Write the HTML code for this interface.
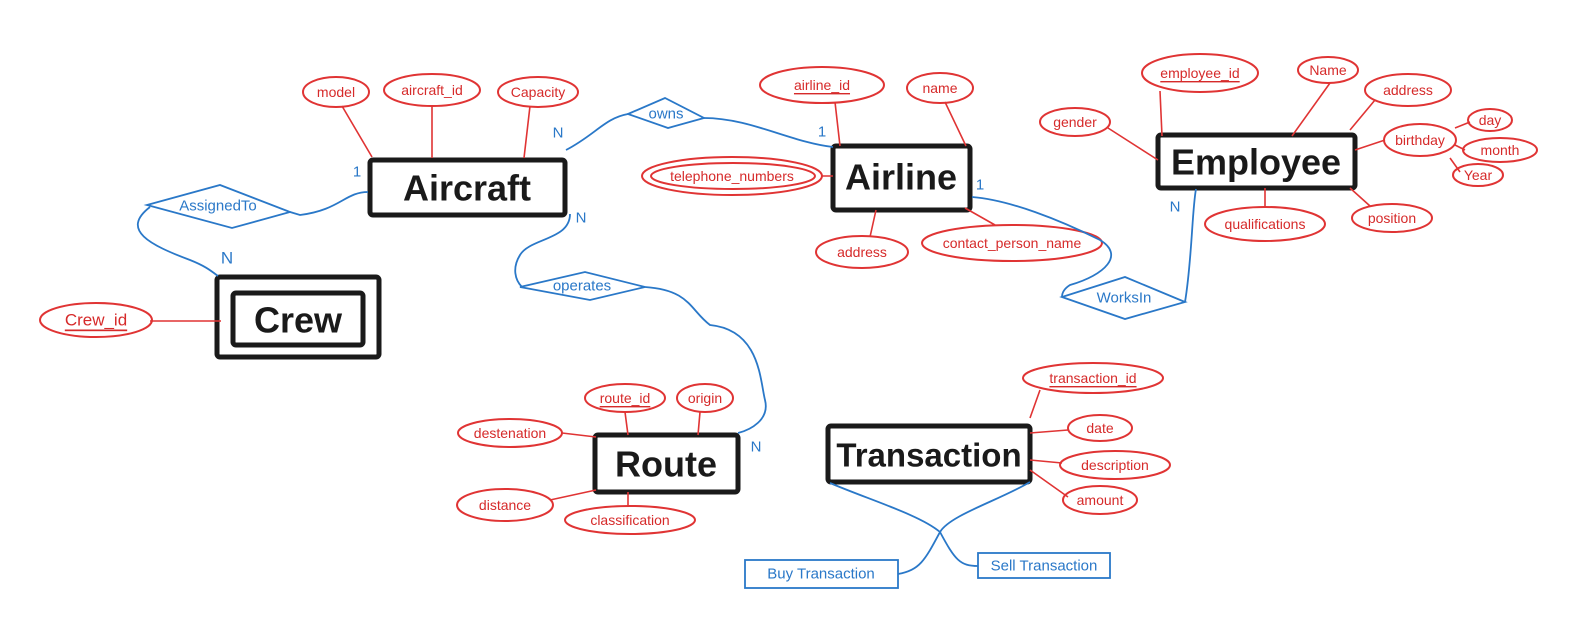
<!DOCTYPE html>
<html><head><meta charset="utf-8"><style>
html,body{margin:0;padding:0;background:#fff;}
svg{display:block;}
.r{fill:none;stroke:#e03434;stroke-width:2;}
.rl{stroke:#e03434;stroke-width:1.6;fill:none;}
.rt{fill:#d62a2a;font-family:"Liberation Sans",sans-serif;font-size:14px;text-anchor:middle;dominant-baseline:central;}
.b{fill:none;stroke:#2a78c8;stroke-width:1.8;}
.bt{fill:#2a78c8;font-family:"Liberation Sans",sans-serif;font-size:15px;text-anchor:middle;dominant-baseline:central;}
.k{fill:none;stroke:#1a1a1a;stroke-width:5;}
.kt{fill:#1a1a1a;font-family:"Liberation Sans",sans-serif;font-weight:bold;font-size:36px;text-anchor:middle;dominant-baseline:central;}
</style></head><body>
<svg width="1596" height="642" viewBox="0 0 1596 642" xmlns="http://www.w3.org/2000/svg">
<rect class="k" x="370" y="160" width="195" height="55" rx="3"/>
<text class="kt" x="467" y="188">Aircraft</text>
<rect class="k" x="217" y="277" width="162" height="80" rx="3"/>
<rect class="k" x="233" y="293" width="130" height="52" rx="3"/>
<text class="kt" x="298" y="320">Crew</text>
<rect class="k" x="833" y="146" width="137" height="64" rx="3"/>
<text class="kt" x="901" y="177">Airline</text>
<rect class="k" x="1158" y="135" width="197" height="53" rx="3"/>
<text class="kt" x="1256" y="162">Employee</text>
<rect class="k" x="595" y="435" width="143" height="57" rx="3"/>
<text class="kt" x="666" y="464">Route</text>
<rect class="k" x="828" y="426" width="202" height="56" rx="3"/>
<text class="kt" x="929" y="455" style="font-size:33px">Transaction</text>

<path class="rl" d="M342 106 L372 157 M432 105 L432 158 M530 106 L524 158"/>
<path class="rl" d="M835 102 L840 146 M945 102 L966 146 M822 176 L833 176 M870 237 L876 210 M995 225 L965 208"/>
<path class="rl" d="M1160 91 L1162 136 M1330 83 L1292 136 M1375 100 L1350 130 M1108 128 L1158 160 M1355 150 L1385 140 M1455 128 L1470 122 M1455 145 L1465 150 M1450 158 L1460 172 M1265 207 L1265 188 M1370 206 L1350 188"/>
<path class="rl" d="M150 321 L221 321"/>
<path class="rl" d="M625 412 L628 435 M700 412 L698 435 M562 433 L596 437 M550 500 L596 490 M628 506 L628 492"/>
<path class="rl" d="M1040 390 L1030 418 M1068 430 L1030 433 M1062 463 L1030 460 M1068 497 L1030 470"/>

<ellipse class="r" cx="336" cy="92" rx="33" ry="15"/><text class="rt" x="336" y="92">model</text>
<ellipse class="r" cx="432" cy="90" rx="48" ry="16"/><text class="rt" x="432" y="90">aircraft_id</text>
<ellipse class="r" cx="538" cy="92" rx="40" ry="15"/><text class="rt" x="538" y="92">Capacity</text>
<ellipse class="r" cx="822" cy="85" rx="62" ry="18"/><text class="rt" x="822" y="85" text-decoration="underline">airline_id</text>
<ellipse class="r" cx="940" cy="88" rx="33" ry="15"/><text class="rt" x="940" y="88">name</text>
<ellipse class="r" cx="732" cy="176" rx="90" ry="19"/><ellipse class="r" cx="733" cy="176" rx="82" ry="13"/><text class="rt" x="732" y="176">telephone_numbers</text>
<ellipse class="r" cx="862" cy="252" rx="46" ry="16"/><text class="rt" x="862" y="252">address</text>
<ellipse class="r" cx="1012" cy="243" rx="90" ry="18"/><text class="rt" x="1012" y="243">contact_person_name</text>
<ellipse class="r" cx="1200" cy="73" rx="58" ry="19"/><text class="rt" x="1200" y="73" text-decoration="underline">employee_id</text>
<ellipse class="r" cx="1328" cy="70" rx="30" ry="13"/><text class="rt" x="1328" y="70">Name</text>
<ellipse class="r" cx="1408" cy="90" rx="43" ry="16"/><text class="rt" x="1408" y="90">address</text>
<ellipse class="r" cx="1075" cy="122" rx="35" ry="14"/><text class="rt" x="1075" y="122">gender</text>
<ellipse class="r" cx="1420" cy="140" rx="36" ry="16"/><text class="rt" x="1420" y="140">birthday</text>
<ellipse class="r" cx="1490" cy="120" rx="22" ry="11"/><text class="rt" x="1490" y="120">day</text>
<ellipse class="r" cx="1500" cy="150" rx="37" ry="12"/><text class="rt" x="1500" y="150">month</text>
<ellipse class="r" cx="1478" cy="175" rx="25" ry="11"/><text class="rt" x="1478" y="175">Year</text>
<ellipse class="r" cx="1265" cy="224" rx="60" ry="17"/><text class="rt" x="1265" y="224">qualifications</text>
<ellipse class="r" cx="1392" cy="218" rx="40" ry="14"/><text class="rt" x="1392" y="218">position</text>
<ellipse class="r" cx="96" cy="320" rx="56" ry="17"/><text class="rt" x="96" y="320" style="font-size:17px" text-decoration="underline">Crew_id</text>
<ellipse class="r" cx="625" cy="398" rx="40" ry="14"/><text class="rt" x="625" y="398" text-decoration="underline">route_id</text>
<ellipse class="r" cx="705" cy="398" rx="28" ry="14"/><text class="rt" x="705" y="398">origin</text>
<ellipse class="r" cx="510" cy="433" rx="52" ry="14"/><text class="rt" x="510" y="433">destenation</text>
<ellipse class="r" cx="505" cy="505" rx="48" ry="16"/><text class="rt" x="505" y="505">distance</text>
<ellipse class="r" cx="630" cy="520" rx="65" ry="14"/><text class="rt" x="630" y="520">classification</text>
<ellipse class="r" cx="1093" cy="378" rx="70" ry="15"/><text class="rt" x="1093" y="378" text-decoration="underline">transaction_id</text>
<ellipse class="r" cx="1100" cy="428" rx="32" ry="13"/><text class="rt" x="1100" y="428">date</text>
<ellipse class="r" cx="1115" cy="465" rx="55" ry="14"/><text class="rt" x="1115" y="465">description</text>
<ellipse class="r" cx="1100" cy="500" rx="37" ry="14"/><text class="rt" x="1100" y="500">amount</text>

<polygon class="b" points="147,205 220,185 290,212 232,228"/><text class="bt" x="218" y="206">AssignedTo</text>
<polygon class="b" points="628,114 665,98 704,118 668,128"/><text class="bt" x="666" y="114">owns</text>
<polygon class="b" points="520,287 585,272 645,287 590,300"/><text class="bt" x="582" y="286">operates</text>
<polygon class="b" points="1062,297 1125,277 1185,302 1125,319"/><text class="bt" x="1124" y="298">WorksIn</text>

<path class="b" d="M368 192 C345 192 340 210 300 215 L290 212"/>
<path class="b" d="M150 207 C120 230 150 245 190 260 C205 266 210 270 218 276"/>
<path class="b" d="M566 150 C595 135 605 118 628 114"/>
<path class="b" d="M704 118 C750 118 790 142 833 147"/>
<path class="b" d="M570 214 C570 240 530 238 520 255 C512 268 515 280 522 287"/>
<path class="b" d="M645 287 C690 290 690 310 710 325 C760 330 760 380 765 400 C770 420 750 430 738 433"/>
<path class="b" d="M972 197 C1010 200 1060 220 1100 240 C1125 255 1105 275 1070 285 C1062 290 1062 295 1062 297"/>
<path class="b" d="M1185 302 C1192 260 1192 210 1196 189"/>
<path class="b" d="M830 483 C870 500 920 515 940 532 C950 515 1000 500 1030 482"/>
<path class="b" d="M940 532 C925 560 920 570 898 574 M940 532 C955 560 960 566 978 566"/>
<rect class="b" x="745" y="560" width="153" height="28"/><text class="bt" x="821" y="574">Buy Transaction</text>
<rect class="b" x="978" y="553" width="132" height="25"/><text class="bt" x="1044" y="566">Sell Transaction</text>

<text class="bt" x="357" y="172">1</text>
<text class="bt" x="227" y="258" style="font-size:17px">N</text>
<text class="bt" x="558" y="133">N</text>
<text class="bt" x="822" y="132">1</text>
<text class="bt" x="581" y="218">N</text>
<text class="bt" x="756" y="447">N</text>
<text class="bt" x="980" y="185">1</text>
<text class="bt" x="1175" y="207">N</text>
</svg>
</body></html>
